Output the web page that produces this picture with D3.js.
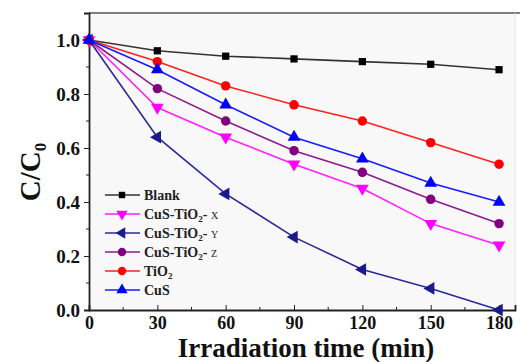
<!DOCTYPE html>
<html>
<head>
<meta charset="utf-8">
<script src="https://cdn.jsdelivr.net/npm/d3@7"></script>
<style>
  body { margin: 0; background: #fff; }
  text { font-family: "Liberation Serif", "Times New Roman", serif; font-weight: bold; }
</style>
</head>
<body>
<svg id="chart" width="520" height="362"></svg>
<script>
// data
var times = [0, 30, 60, 90, 120, 150, 180];
var blank = [1.0, 0.96, 0.94, 0.93, 0.92, 0.91, 0.89];
var cusTiO2X = [1.0, 0.75, 0.64, 0.54, 0.45, 0.32, 0.24];
var cusTiO2Y = [1.0, 0.64, 0.43, 0.27, 0.15, 0.08, 0.0];
var cusTiO2Z = [1.0, 0.82, 0.70, 0.59, 0.51, 0.41, 0.32];
var tio2 = [1.0, 0.92, 0.83, 0.76, 0.70, 0.62, 0.54];
var cus = [1.0, 0.89, 0.76, 0.64, 0.56, 0.47, 0.40];
var xTicks = [0, 30, 60, 90, 120, 150, 180];
var yTicks = [0.0, 0.2, 0.4, 0.6, 0.8, 1.0];

var series = [
  { name: 'Blank', values: blank, color: '#000000', line: '#333333', symbol: 'square' },
  { name: 'CuS-TiO2- X', values: cusTiO2X, color: '#ff00ff', line: '#ff22ff', symbol: 'tridown' },
  { name: 'CuS-TiO2- Y', values: cusTiO2Y, color: '#1a1a8c', line: '#2a2a9a', symbol: 'trileft' },
  { name: 'CuS-TiO2- Z', values: cusTiO2Z, color: '#800080', line: '#8e1a8e', symbol: 'circle' },
  { name: 'TiO2', values: tio2, color: '#ff0000', line: '#ff2020', symbol: 'circle' },
  { name: 'CuS', values: cus, color: '#0000ff', line: '#1a1aff', symbol: 'triup' }
];

var svg = d3.select('#chart');
// plot box (note: "top" is taken by window.top, so use a prefix)
var plotLeft = 89, plotRight = 515, plotTop = 13, plotBottom = 310;

var x = d3.scaleLinear().domain([0, 187]).range([plotLeft, plotRight]);
var y = d3.scaleLinear().domain([0, 1.1]).range([plotBottom, plotTop]);

// plot background
svg.append('rect')
  .attr('x', plotLeft).attr('y', plotTop)
  .attr('width', plotRight - plotLeft).attr('height', plotBottom - plotTop)
  .attr('fill', '#f8f8f8');

// frame: top and faint right side
svg.append('line')
  .attr('x1', plotLeft).attr('x2', 520).attr('y1', plotTop).attr('y2', plotTop)
  .attr('stroke', '#555').attr('stroke-width', 1.6);
svg.append('line')
  .attr('x1', plotRight).attr('x2', plotRight).attr('y1', plotTop).attr('y2', plotBottom)
  .attr('stroke', '#e4e4e4').attr('stroke-width', 1);

// y axis, ticks outward
var yAxis = svg.append('g')
  .attr('transform', 'translate(' + plotLeft + ',0)')
  .call(d3.axisLeft(y).tickValues(yTicks).tickFormat(d3.format('.1f')).tickSize(5).tickPadding(4));
yAxis.append('g').selectAll('line')
  .data([0.1, 0.3, 0.5, 0.7, 0.9])
  .enter().append('line')
  .attr('x1', 0).attr('x2', -3)
  .attr('y1', function(d) { return y(d); }).attr('y2', function(d) { return y(d); })
  .attr('stroke', '#222');

// x axis, ticks inward
var xAxis = svg.append('g')
  .attr('transform', 'translate(0,' + plotBottom + ')')
  .call(d3.axisBottom(x).tickValues(xTicks).tickSize(-5).tickPadding(6));
xAxis.append('g').selectAll('line')
  .data([15, 45, 75, 105, 135, 165])
  .enter().append('line')
  .attr('x1', function(d) { return x(d); }).attr('x2', function(d) { return x(d); })
  .attr('y1', 0).attr('y2', -3)
  .attr('stroke', '#222');

svg.selectAll('.domain').attr('stroke', '#222').attr('stroke-width', 1.8);
svg.selectAll('.tick line').attr('stroke', '#222');
yAxis.selectAll('.tick text').attr('fill', '#111').style('font-size', '19px');
xAxis.selectAll('.tick text').attr('fill', '#111').style('font-size', '18px');

// axis titles
svg.append('text')
  .attr('x', 306).attr('y', 357)
  .attr('text-anchor', 'middle')
  .style('font-size', '27px')
  .attr('fill', '#111')
  .text('Irradiation time (min)');

var ylab = svg.append('text')
  .attr('transform', 'translate(40,172) rotate(-90)')
  .attr('text-anchor', 'middle')
  .style('font-size', '29px')
  .attr('fill', '#111');
ylab.append('tspan').text('C/C');
ylab.append('tspan').attr('dy', 6).style('font-size', '17px').text('0');

// marker shapes
function symbolPath(kind, size) {
  if (kind === 'square') return d3.symbol().type(d3.symbolSquare).size(size * 0.75)();
  if (kind === 'circle') return d3.symbol().type(d3.symbolCircle).size(size)();
  return d3.symbol().type(d3.symbolTriangle).size(size)();
}
function symbolRotate(kind) {
  if (kind === 'tridown') return 180;
  if (kind === 'trileft') return -90;
  return 0;
}

var line = d3.line()
  .x(function(d) { return x(d.t); })
  .y(function(d) { return y(d.v); });

series.forEach(function(s) {
  var pts = times.map(function(t, i) { return { t: t, v: s.values[i] }; });
  svg.append('path')
    .datum(pts)
    .attr('d', line)
    .attr('fill', 'none')
    .attr('stroke', s.line)
    .attr('stroke-width', 1.6);
  svg.append('g').selectAll('path')
    .data(pts)
    .enter().append('path')
    .attr('d', symbolPath(s.symbol, 70))
    .attr('transform', function(d) {
      return 'translate(' + x(d.t) + ',' + y(d.v) + ') rotate(' + symbolRotate(s.symbol) + ')';
    })
    .attr('fill', s.color);
});

// legend
var legend = svg.append('g');
series.forEach(function(s, i) {
  var ly = 195 + i * 19;
  legend.append('line')
    .attr('x1', 105).attr('x2', 140).attr('y1', ly).attr('y2', ly)
    .attr('stroke', s.line).attr('stroke-width', 1.6);
  legend.append('path')
    .attr('d', symbolPath(s.symbol, 55))
    .attr('transform', 'translate(122,' + ly + ') rotate(' + symbolRotate(s.symbol) + ')')
    .attr('fill', s.color);
  var t = legend.append('text')
    .attr('x', 144).attr('y', ly + 5)
    .style('font-size', '14px')
    .attr('fill', '#222');
  if (s.name.indexOf('TiO2') >= 0) {
    var parts = s.name.split('TiO2');
    t.append('tspan').text(parts[0] + 'TiO');
    t.append('tspan').attr('dy', 3).style('font-size', '9px').text('2');
    if (parts[1]) {
      t.append('tspan').attr('dy', -3).text(parts[1].slice(0, 2));
      t.append('tspan').style('font-size', '10px').style('font-weight', 'normal').text(parts[1].slice(2));
    }
  } else {
    t.text(s.name);
  }
});
</script>
</body>
</html>
